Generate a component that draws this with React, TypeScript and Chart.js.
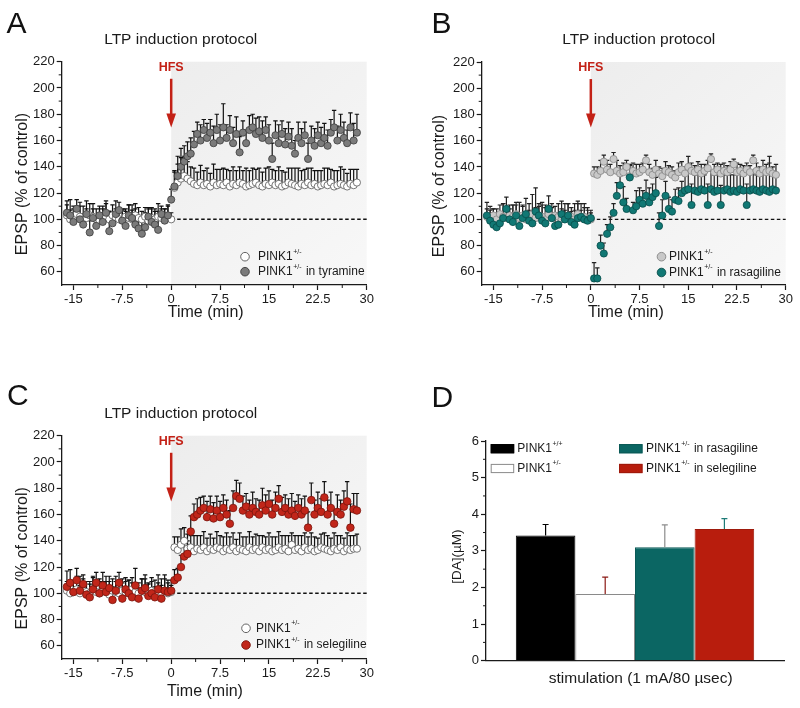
import React, { useEffect, useRef } from "react";
import { Chart, registerables } from "chart.js";

Chart.register(...registerables);

const FONT = "'Liberation Sans', Arial, Helvetica, sans-serif";
const INK = "#1a1a1a";
const HFS_RED = "#c32116";

// ---------- DATA ----------
const TIME = [
  -16, -15.5, -15, -14.5, -14, -13.5, -13, -12.5, -12, -11.5, -11, -10.5, -10, -9.5, -9, -8.5,
  -8, -7.5, -7, -6.5, -6, -5.5, -5, -4.5, -4, -3.5, -3, -2.5, -2, -1.5, -1, -0.5,
  0, 0.5, 1, 1.5, 2, 2.5, 3, 3.5, 4, 4.5, 5, 5.5, 6, 6.5, 7, 7.5, 8, 8.5, 9, 9.5, 10,
  10.5, 11, 11.5, 12, 12.5, 13, 13.5, 14, 14.5, 15, 15.5, 16, 16.5, 17, 17.5, 18, 18.5,
  19, 19.5, 20, 20.5, 21, 21.5, 22, 22.5, 23, 23.5, 24, 24.5, 25, 25.5, 26, 26.5, 27,
  27.5, 28, 28.5,
];
const X_TICKS = [-15, -7.5, 0, 7.5, 15, 22.5, 30];
const X_MINOR = [-11.25, -3.75, 3.75, 11.25, 18.75, 26.25];
const Y_TICKS = [60, 80, 100, 120, 140, 160, 180, 200, 220];
const Y_MINOR = [70, 90, 110, 130, 150, 170, 190, 210];

// Panel A
const A_CTRL = [
  103, 100, 101, 104, 102, 100, 101, 103, 102, 100, 99, 101, 102, 100, 103, 101,
  100, 99, 102, 101, 100, 103, 101, 100, 102, 99, 101, 100, 102, 101, 100, 101,
  100,
  124, 128, 131, 133, 131, 129, 127, 126, 128, 126, 127, 125, 128, 126, 127, 126,
  128, 125, 127, 126, 128, 127, 125, 126, 127, 128, 126, 125, 127, 126, 128, 126,
  127, 125, 126, 128, 127, 126, 125, 127, 126, 128, 126, 127, 125, 126, 127, 126,
  128, 125, 126, 127, 126, 125, 127, 126, 128,
];
const A_CTRL_ERR = [
  8, 7, 9, 6, 8, 10, 7, 9, 6, 8, 9, 7, 10, 6, 8, 7, 9, 8, 6, 10, 7, 9, 8, 6, 7, 9, 8, 6, 10, 7, 8, 9,
  5,
  12, 14, 16, 15, 13, 11, 12, 10, 13, 11, 12, 10, 14, 12, 11, 13, 10, 12, 13, 11, 12, 10, 14, 11,
  12, 10, 13, 11, 12, 14, 10, 11, 13, 12, 10, 11, 12, 13, 14, 10, 12, 11, 13, 10, 12, 11, 12, 13,
  10, 12, 11, 13, 12, 10, 11, 12, 10,
];
const A_TYR = [
  105, 103, 98, 108, 100, 96, 104, 90, 101, 95, 103, 98, 105, 91, 97, 104,
  107, 99, 95, 103, 101, 96, 93, 89, 94, 102, 98, 96, 92, 104, 99, 103,
  115,
  125, 133, 140, 144, 148, 150, 157, 165, 160, 168, 162, 166, 158, 168, 160, 170,
  162, 168, 158, 165, 151, 166, 158, 168, 170, 165, 167, 162, 168, 160, 146, 164,
  158, 165, 157, 163, 156, 150, 162, 158, 164, 146, 160, 156, 164, 158, 162, 156,
  166, 170, 160, 168, 162, 158, 170, 160, 166,
];
const A_TYR_ERR = [
  9, 12, 10, 7, 13, 8, 10, 9, 11, 8, 7, 12, 9, 15, 8, 10, 6, 9, 11, 8, 10, 12, 9, 13, 11, 7, 10, 12, 14, 6, 9, 8,
  8,
  12, 15, 14, 12, 11, 12, 10, 9, 12, 8, 11, 10, 13, 12, 12, 18, 10, 11, 12, 13, 12, 9, 10, 11,
  10, 12, 11, 13, 10, 12, 12, 11, 14, 10, 12, 11, 13, 10, 12, 11, 10, 12, 11, 13, 10, 12, 11, 12,
  10, 13, 11, 12, 12, 10, 11, 13, 14,
];

// Panel B
const B_CTRL = [
  102, 101, 103, 100, 104, 102, 101, 103, 102, 104, 101, 103, 100, 102, 104, 101,
  103, 102, 100, 104, 101, 103, 102, 100, 101, 103, 102, 100, 104, 101, 102, 100,
  100,
  135, 134, 137, 144, 138, 136, 146, 137, 135, 136, 140, 133, 137, 135, 136, 138,
  145, 136, 134, 138, 135, 133, 137, 136, 134, 132, 136, 138, 135, 140, 137, 136,
  138, 135, 137, 139, 146, 136, 138, 135, 137, 136, 138, 142, 136, 137, 135, 138,
  136, 145, 137, 135, 138, 136, 137, 135, 134,
];
const B_CTRL_ERR = [
  6, 9, 5, 8, 7, 10, 6, 8, 9, 7, 12, 8, 6, 10, 15, 8, 7, 11, 9, 6, 8, 7, 10, 8, 6, 9, 7, 12, 8, 6, 10, 9,
  5,
  5, 6, 8, 5, 7, 6, 5, 8, 6, 7, 5, 8, 6, 7, 6, 5, 4, 6, 5, 7, 5, 6, 7, 5,
  6, 5, 7, 6, 5, 8, 6, 5, 6, 7, 5, 6, 4, 6, 5, 7, 6, 5, 6, 4, 7, 5, 6, 5,
  5, 4, 6, 5, 7, 6, 6, 5, 8,
];
const B_RAS = [
  103, 99, 96, 94, 97, 101, 108, 100, 98, 103, 95, 101, 104, 99, 97, 106,
  103, 99, 97, 108, 101, 95, 96, 104, 100, 103, 98, 96, 101, 102, 100, 99,
  101,
  55, 55, 80, 74, 89, 94, 105, 118, 126, 113, 108, 132, 107, 110, 115, 112,
  118, 113, 117, 120, 95, 103, 118, 108, 106, 115, 114, 120, 122, 123, 111, 122,
  121, 123, 122, 111, 123, 121, 122, 111, 122, 123, 121, 122, 121, 123, 122, 111,
  122, 123, 122, 121, 123, 122, 121, 123, 122,
];
const B_RAS_ERR = [
  10, 8, 12, 9, 7, 11, 9, 8, 13, 10, 7, 9, 12, 8, 10, 18, 9, 12, 14, 10, 11, 8, 9, 10, 12, 9, 8, 11, 13, 10, 9, 8,
  6,
  12, 8, 8, 8, 7, 8, 7, 10, 10, 12, 8, 10, 6, 12, 9, 10, 12, 11, 10, 12, 10, 12, 11, 9,
  9, 8, 10, 9, 12, 13, 16, 12, 14, 13, 12, 16, 14, 13, 12, 15, 12, 14, 13, 12, 15, 14, 13, 16,
  14, 13, 12, 15, 14, 13, 27, 12, 13,
];

// Panel C
const C_CTRL = [
  102, 100, 101, 103, 100, 102, 101, 100, 103, 101, 100, 102, 101, 99, 102, 101,
  100, 102, 101, 100, 103, 101, 100, 102, 101, 100, 102, 101, 100, 101, 102, 100,
  101,
  135, 133, 137, 140, 134, 135, 132, 134, 133, 135, 132, 134, 133, 135, 134, 132,
  134, 133, 135, 132, 134, 133, 132, 135, 133, 134, 132, 135, 133, 134, 132, 133,
  135, 133, 134, 132, 137, 133, 134, 132, 135, 133, 134, 132, 133, 135, 134, 133,
  132, 134, 133, 135, 132, 134, 133, 134, 134,
];
const C_CTRL_ERR = [
  7, 9, 8, 10, 6, 9, 8, 7, 10, 8, 9, 7, 8, 10, 9, 8, 7, 9, 8, 10, 9, 7, 8, 9, 10, 8, 7, 9, 8, 10, 9, 8,
  5,
  8, 10, 12, 10, 11, 9, 12, 10, 11, 12, 10, 11, 9, 12, 10, 11, 12, 10, 11, 9, 12, 10, 11, 12,
  10, 11, 12, 9, 10, 12, 11, 10, 12, 11, 10, 12, 9, 11, 10, 12, 11, 10, 12, 11, 9, 10, 12, 11,
  10, 12, 11, 9, 10, 12, 11, 10, 11,
];
const C_SEL = [
  105, 108, 101, 110, 102, 107, 99, 97, 103, 108, 100, 106, 101, 104, 95, 102,
  108, 96, 103, 100, 97, 106, 96, 102, 104, 98, 100, 97, 103, 96, 102, 101,
  102,
  110, 112, 120, 128, 130, 147, 158, 160, 163, 165, 158, 164, 157, 163, 158, 165,
  160, 153, 165, 174, 172, 163, 166, 160, 165, 162, 160, 167, 163, 168, 160, 165,
  172, 162, 165, 160, 163, 159, 165, 160, 163, 150, 171, 160, 165, 162, 173, 160,
  165, 153, 162, 160, 166, 170, 150, 164, 163,
];
const C_SEL_ERR = [
  12, 10, 8, 9, 11, 7, 10, 12, 9, 8, 11, 10, 12, 9, 10, 11, 8, 12, 9, 10, 11, 13, 8, 9, 10, 9, 12, 8, 11, 10, 12, 9,
  8,
  8, 7, 9, 10, 10, 12, 10, 12, 10, 9, 12, 10, 12, 11, 12, 10, 11, 10, 13, 12, 12, 11, 10, 11,
  12, 10, 11, 13, 12, 10, 11, 12, 10, 11, 10, 12, 13, 11, 10, 12, 11, 12, 13, 11, 12, 10, 12, 11,
  12, 10, 13, 11, 12, 15, 18, 12, 13,
];

// Panel D
const DA_SUP = ["+/+", "+/-", "+/-", "+/-"];
const DA_REST = ["", "", " in rasagiline", " in selegiline"];
const DA_VALUES = [3.42, 1.82, 3.1, 3.6];
const DA_ERRORS = [0.3, 0.46, 0.61, 0.28];
const DA_TICKS_MINOR = [0.5, 1.5, 2.5, 3.5, 4.5, 5.5];

// ---------- STYLES ----------
const DA_FILL = ["#000000", "#ffffff", "#0b6663", "#b81d0d"];
const DA_STROKE = ["#000000", "#8a8a8a", "#0a5956", "#9e1a0c"];
const DA_ERRCOL = ["#000000", "#8b1a14", "#8c8c8c", "#1e7b77"];

type Series = {
  suffix: string;
  values: number[];
  errors: number[];
  fill: string;
  stroke: string;
  radius: number;
  err: string;
};

type Panel = {
  letter: string;
  letterPos: [number, number];
  titlePos: [number, number];
  xTitlePos: [number, number];
  yTitlePos: [number, number];
  pad: { left: number; top: number; right: number; bottom: number };
  legend: { markerX: number; textX: number; rows: [number, number] };
  ctrl: Series;
  trt: Series;
};

function drawText(
  ctx: CanvasRenderingContext2D,
  s: string,
  x: number,
  y: number,
  font: string,
  align: CanvasTextAlign = "center",
  baseline: CanvasTextBaseline = "middle",
  color = INK,
  rotate = 0
) {
  ctx.save();
  ctx.font = font;
  ctx.fillStyle = color;
  ctx.textAlign = align;
  ctx.textBaseline = baseline;
  ctx.translate(x, y);
  if (rotate) ctx.rotate(rotate);
  ctx.fillText(s, 0, 0);
  ctx.restore();
}

function drawPink(ctx: CanvasRenderingContext2D, x: number, y: number, sup: string, rest: string) {
  ctx.save();
  ctx.fillStyle = INK;
  ctx.textAlign = "left";
  ctx.textBaseline = "middle";
  ctx.font = `12px ${FONT}`;
  ctx.fillText("PINK1", x, y);
  let cx = x + ctx.measureText("PINK1").width + 0.5;
  ctx.font = `7px ${FONT}`;
  ctx.fillText(sup, cx, y - 5);
  cx += ctx.measureText(sup).width;
  if (rest) {
    ctx.font = `12px ${FONT}`;
    ctx.fillText(rest, cx + 1, y);
  }
  ctx.restore();
}

function minorTicks(chart: any, xs: number[], ys: number[]) {
  const { ctx, chartArea: a, scales } = chart;
  ctx.save();
  ctx.strokeStyle = INK;
  ctx.lineWidth = 1;
  ctx.beginPath();
  xs.forEach((v) => {
    const p = scales.x.getPixelForValue(v);
    ctx.moveTo(p, a.bottom);
    ctx.lineTo(p, a.bottom + 3);
  });
  ys.forEach((v) => {
    const p = scales.y.getPixelForValue(v);
    ctx.moveTo(a.left, p);
    ctx.lineTo(a.left - 3, p);
  });
  ctx.stroke();
  ctx.restore();
}

function errorBars(chart: any, s: Series) {
  const { ctx, scales } = chart;
  ctx.save();
  ctx.strokeStyle = s.err;
  ctx.lineWidth = 1.2;
  ctx.beginPath();
  TIME.forEach((t, i) => {
    const px = scales.x.getPixelForValue(t);
    const y0 = scales.y.getPixelForValue(s.values[i]);
    const y1 = scales.y.getPixelForValue(s.values[i] + s.errors[i]);
    ctx.moveTo(px, y0);
    ctx.lineTo(px, y1);
    ctx.moveTo(px - 2.2, y1);
    ctx.lineTo(px + 2.2, y1);
  });
  ctx.stroke();
  ctx.restore();
}

function axisCommon() {
  return {
    grid: { drawOnChartArea: false, tickLength: 5, tickColor: INK, tickWidth: 1.2 },
    border: { color: INK, width: 1.3 },
  };
}

function makeLtp(p: Panel) {
  return (canvas: HTMLCanvasElement) => {
    const mk = (s: Series, order: number) => ({
      label: s.suffix,
      data: TIME.map((t, i) => ({ x: t, y: s.values[i] })),
      backgroundColor: s.fill,
      borderColor: s.stroke,
      borderWidth: 0.8,
      pointRadius: s.radius,
      pointHoverRadius: s.radius,
      showLine: false,
      order,
    });
    const plugin = {
      id: "ltp" + p.letter,
      beforeDraw(chart: any) {
        const { ctx, chartArea: a, scales } = chart;
        const x0 = scales.x.getPixelForValue(0);
        const g = ctx.createLinearGradient(x0, a.top, a.right, a.bottom);
        g.addColorStop(0, "#ededed");
        g.addColorStop(1, "#f8f8f8");
        ctx.save();
        ctx.fillStyle = g;
        ctx.fillRect(x0, a.top, a.right - x0, a.bottom - a.top);
        ctx.restore();
      },
      beforeDatasetsDraw(chart: any) {
        const { ctx, scales } = chart;
        const yy = scales.y.getPixelForValue(100);
        ctx.save();
        ctx.strokeStyle = "#111";
        ctx.lineWidth = 1.4;
        ctx.setLineDash([3.5, 2.5]);
        ctx.beginPath();
        ctx.moveTo(scales.x.getPixelForValue(0), yy);
        ctx.lineTo(scales.x.getPixelForValue(30), yy);
        ctx.stroke();
        ctx.restore();
        errorBars(chart, p.ctrl);
        errorBars(chart, p.trt);
      },
      afterDraw(chart: any) {
        const { ctx, scales } = chart;
        minorTicks(chart, X_MINOR, Y_MINOR);
        // HFS arrow
        const ax = scales.x.getPixelForValue(0);
        const yTop = scales.y.getPixelForValue(207);
        const yTip = scales.y.getPixelForValue(170);
        ctx.save();
        ctx.strokeStyle = HFS_RED;
        ctx.fillStyle = HFS_RED;
        ctx.lineWidth = 2.5;
        ctx.beginPath();
        ctx.moveTo(ax, yTop);
        ctx.lineTo(ax, yTip - 10);
        ctx.stroke();
        ctx.beginPath();
        ctx.moveTo(ax - 4.8, yTip - 14);
        ctx.lineTo(ax + 4.8, yTip - 14);
        ctx.lineTo(ax, yTip);
        ctx.closePath();
        ctx.fill();
        ctx.restore();
        drawText(ctx, "HFS", ax, scales.y.getPixelForValue(215.5), `bold 12.5px ${FONT}`, "center", "middle", HFS_RED);
        // texts
        drawText(ctx, p.letter, p.letterPos[0], p.letterPos[1], `30px ${FONT}`, "left", "alphabetic", "#111");
        drawText(ctx, "LTP induction protocol", p.titlePos[0], p.titlePos[1], `15.5px ${FONT}`);
        drawText(ctx, "Time (min)", p.xTitlePos[0], p.xTitlePos[1], `16px ${FONT}`);
        drawText(ctx, "EPSP (% of control)", p.yTitlePos[0], p.yTitlePos[1], `16px ${FONT}`, "center", "middle", INK, -Math.PI / 2);
        // legend
        const L = p.legend;
        [p.ctrl, p.trt].forEach((s, k) => {
          const yy = L.rows[k];
          ctx.save();
          ctx.beginPath();
          ctx.arc(L.markerX, yy, 4.3, 0, Math.PI * 2);
          ctx.fillStyle = s.fill;
          ctx.fill();
          ctx.lineWidth = 0.9;
          ctx.strokeStyle = s.stroke;
          ctx.stroke();
          ctx.restore();
          drawPink(ctx, L.textX, yy, "+/-", s.suffix);
        });
      },
    };
    return new Chart(canvas, {
      type: "scatter",
      data: { datasets: [mk(p.trt, 0), mk(p.ctrl, 1)] as any },
      options: {
        responsive: false,
        animation: false,
        events: [],
        layout: { padding: p.pad },
        plugins: { legend: { display: false }, tooltip: { enabled: false } },
        scales: {
          x: {
            type: "linear",
            min: -16.8,
            max: 30,
            afterBuildTicks: (s: any) => {
              s.ticks = X_TICKS.map((v) => ({ value: v }));
            },
            afterFit: (s: any) => {
              s.height = 40;
            },
            ticks: {
              autoSkip: false,
              maxRotation: 0,
              padding: 2,
              color: INK,
              font: { family: FONT, size: 13 },
              callback: (v: any) => String(v),
            },
            ...axisCommon(),
          },
          y: {
            type: "linear",
            min: 50,
            max: 220,
            afterBuildTicks: (s: any) => {
              s.ticks = Y_TICKS.map((v) => ({ value: v }));
            },
            afterFit: (s: any) => {
              s.width = 50;
            },
            ticks: {
              autoSkip: false,
              padding: 2,
              color: INK,
              font: { family: FONT, size: 13 },
              callback: (v: any) => String(v),
            },
            ...axisCommon(),
          },
        },
      } as any,
      plugins: [plugin],
    });
  };
}

const PANEL_A: Panel = {
  letter: "A",
  letterPos: [6.5, 33.3],
  titlePos: [180.7, 39.3],
  xTitlePos: [205.7, 313],
  yTitlePos: [22.5, 184],
  pad: { left: 11.7, top: 61.7, right: 33.3, bottom: 29 },
  legend: { markerX: 245, textX: 258, rows: [256.7, 271.7] },
  ctrl: { suffix: "", values: A_CTRL, errors: A_CTRL_ERR, fill: "#ffffff", stroke: "#555555", radius: 3.6, err: "#111111" },
  trt: { suffix: " in tyramine", values: A_TYR, errors: A_TYR_ERR, fill: "#7b7b7b", stroke: "#3c3c3c", radius: 3.6, err: "#111111" },
};

const PANEL_B: Panel = {
  letter: "B",
  letterPos: [31.5, 33.3],
  titlePos: [238.7, 39.3],
  xTitlePos: [225.8, 313],
  yTitlePos: [40, 186],
  pad: { left: 31.7, top: 62, right: 14.3, bottom: 29 },
  legend: { markerX: 261.5, textX: 269, rows: [256.7, 272.5] },
  ctrl: { suffix: "", values: B_CTRL, errors: B_CTRL_ERR, fill: "#c8c8c8", stroke: "#858585", radius: 3.6, err: "#222222" },
  trt: { suffix: " in rasagiline", values: B_RAS, errors: B_RAS_ERR, fill: "#117874", stroke: "#084d4a", radius: 3.6, err: "#222222" },
};

const PANEL_C: Panel = {
  letter: "C",
  letterPos: [7, 51],
  titlePos: [180.7, 59.3],
  xTitlePos: [205, 337.5],
  yTitlePos: [22.5, 204.3],
  pad: { left: 11.7, top: 81.7, right: 33.3, bottom: 9 },
  legend: { markerX: 246, textX: 256, rows: [274.3, 291] },
  ctrl: { suffix: "", values: C_CTRL, errors: C_CTRL_ERR, fill: "#ffffff", stroke: "#555555", radius: 3.6, err: "#111111" },
  trt: { suffix: " in selegiline", values: C_SEL, errors: C_SEL_ERR, fill: "#c1261a", stroke: "#7a140c", radius: 3.8, err: "#111111" },
};

function makeBars(canvas: HTMLCanvasElement) {
  const plugin = {
    id: "daBars",
    afterDatasetsDraw(chart: any) {
      const { ctx, scales } = chart;
      DA_VALUES.forEach((v, i) => {
        const bar = chart.getDatasetMeta(i).data[0];
        const x = bar.x;
        const y0 = scales.y.getPixelForValue(v);
        const y1 = scales.y.getPixelForValue(v + DA_ERRORS[i]);
        ctx.save();
        ctx.strokeStyle = DA_ERRCOL[i];
        ctx.lineWidth = 1.2;
        ctx.beginPath();
        ctx.moveTo(x, y0);
        ctx.lineTo(x, y1);
        ctx.moveTo(x - 3, y1);
        ctx.lineTo(x + 3, y1);
        ctx.stroke();
        ctx.restore();
      });
    },
    afterDraw(chart: any) {
      const { ctx } = chart;
      minorTicks(chart, [], DA_TICKS_MINOR);
      drawText(ctx, "D", 31.5, 52.7, `30px ${FONT}`, "left", "alphabetic", "#111");
      drawText(ctx, "[DA](\u00b5M)", 57, 202.7, `13.5px ${FONT}`, "center", "middle", INK, -Math.PI / 2);
      drawText(ctx, "stimulation (1 mA/80 \u00b5sec)", 240.7, 324.3, `15.5px ${FONT}`);
      // legend
      const cols = [
        { bx: 90.7, tx: 117.3 },
        { bx: 219, tx: 246 },
      ];
      const rows = [94.7, 114.5];
      DA_VALUES.forEach((_, i) => {
        const c = cols[i < 2 ? 0 : 1];
        const r = rows[i % 2];
        ctx.save();
        ctx.fillStyle = DA_FILL[i];
        ctx.fillRect(c.bx, r - 4.6, 23.5, 9.2);
        ctx.strokeStyle = DA_STROKE[i];
        ctx.lineWidth = 1;
        ctx.strokeRect(c.bx + 0.5, r - 4.6 + 0.5, 22.5, 8.2);
        ctx.restore();
        drawPink(ctx, c.tx, r, DA_SUP[i], DA_REST[i]);
      });
    },
  };
  return new Chart(canvas, {
    type: "bar",
    data: {
      labels: ["stimulation"],
      datasets: DA_VALUES.map((v, i) => ({
        label: "PINK1" + DA_SUP[i] + DA_REST[i],
        data: [v],
        backgroundColor: DA_FILL[i],
        borderColor: DA_STROKE[i],
        borderWidth: 1,
        categoryPercentage: 0.8,
        barPercentage: 1,
      })),
    },
    options: {
      responsive: false,
      animation: false,
      events: [],
      layout: { padding: { left: 36, top: 87, right: 16, bottom: 7.3 } },
      plugins: { legend: { display: false }, tooltip: { enabled: false } },
      scales: {
        x: {
          type: "category",
          grid: { display: false },
          ticks: { display: false },
          border: { color: INK, width: 1.3 },
          afterFit: (s: any) => {
            s.height = 40;
          },
        },
        y: {
          type: "linear",
          min: 0,
          max: 6,
          ticks: { stepSize: 1, padding: 2, color: INK, font: { family: FONT, size: 13 } },
          afterFit: (s: any) => {
            s.width = 50;
          },
          ...axisCommon(),
        },
      },
    } as any,
    plugins: [plugin],
  });
}

const MAKE_A = makeLtp(PANEL_A);
const MAKE_B = makeLtp(PANEL_B);
const MAKE_C = makeLtp(PANEL_C);

function PanelCanvas({ left, top, make }: { left: number; top: number; make: (c: HTMLCanvasElement) => Chart }) {
  const ref = useRef<HTMLCanvasElement>(null);
  useEffect(() => {
    if (!ref.current) return;
    const ch = make(ref.current);
    return () => ch.destroy();
  }, [make]);
  return (
    <canvas
      ref={ref}
      width={400}
      height={354}
      style={{ position: "absolute", left, top, width: 400, height: 354, display: "block" }}
    />
  );
}

export default function App() {
  return (
    <div style={{ position: "absolute", left: 0, top: 0, width: 800, height: 708, background: "#ffffff" }}>
      <PanelCanvas left={0} top={0} make={MAKE_A} />
      <PanelCanvas left={400} top={0} make={MAKE_B} />
      <PanelCanvas left={0} top={354} make={MAKE_C} />
      <PanelCanvas left={400} top={354} make={makeBars} />
    </div>
  );
}
